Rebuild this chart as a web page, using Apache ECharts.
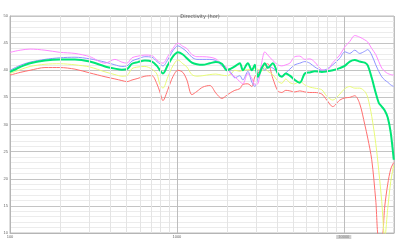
<!DOCTYPE html>
<html>
<head>
<meta charset="utf-8">
<script src="https://cdn.jsdelivr.net/npm/echarts@6/dist/echarts.min.js"></script>
<style>
  html, body { margin: 0; padding: 0; background: #fff; }
  #chart { width: 400px; height: 245px; }
</style>
</head>
<body>
<div id="chart"></div>
<script>
// frequency points (Hz), shared by all curves
var freqs = [100, 115, 132, 162, 199, 245, 301, 371, 425, 468, 502, 538, 584, 643, 709, 759, 791, 825, 884, 946,
  1014, 1086, 1148, 1230, 1318, 1431, 1576, 1712, 1860, 1993, 2106, 2225, 2384, 2485, 2662, 2813, 2932, 3055, 3228, 3365,
  3506, 3757, 4025, 4253, 4496, 4750, 5089, 5452, 5842, 6259, 6706, 7385, 7912, 8595, 9464, 10140, 10860, 11640, 12470, 13360,
  13920, 14710, 15550, 16210, 16890, 17600, 18340, 19120, 19930];

var pinkDb = [43.3, 43.7, 43.9, 43.7, 43.3, 43.1, 42.5, 41.3, 42.0, 41.5, 41.3, 42.3, 42.6, 42.8, 42.7, 41.9, 41.5, 41.3, 42.6, 44.0,
  45.0, 44.4, 44.0, 42.9, 42.5, 42.5, 42.4, 42.1, 41.1, 40.5, 39.3, 38.8, 37.9, 37.5, 39.4, 38.5, 37.4, 37.5, 41.5, 43.4,
  42.8, 41.8, 41.0, 40.8, 41.0, 41.3, 42.5, 42.6, 42.0, 42.1, 41.5, 40.1, 40.0, 41.4, 42.8, 44.3, 45.3, 46.4, 46.1, 45.6,
  45.2, 44.0, 42.9, 41.6, 40.4, 39.8, 39.4, 39.2, 39.1];

var blueDb = [40.0, 40.9, 41.5, 42.0, 42.3, 42.4, 42.1, 41.5, 41.0, 40.7, 40.8, 41.7, 42.1, 42.5, 42.4, 41.6, 41.2, 40.8, 42.0, 43.6,
  44.5, 44.0, 43.4, 42.4, 42.0, 42.0, 42.0, 41.8, 40.8, 40.2, 39.6, 38.6, 39.0, 38.2, 39.8, 37.8, 37.0, 38.5, 40.7, 40.0,
  40.7, 40.4, 39.6, 38.9, 39.5, 40.2, 41.0, 41.3, 41.6, 41.3, 40.6, 40.0, 40.2, 41.0, 42.2, 43.4, 43.1, 43.7, 43.1, 43.5,
  43.8, 42.8, 41.0, 39.8, 38.8, 38.2, 37.8, 37.3, 37.0];

var greenDb = [39.7, 40.6, 41.3, 41.8, 42.0, 42.0, 41.6, 40.7, 40.3, 40.1, 40.2, 41.2, 41.5, 41.8, 41.6, 40.8, 40.0, 39.4, 41.0, 42.5,
  43.3, 42.9, 42.2, 41.4, 41.1, 41.0, 41.3, 41.5, 41.2, 40.0, 40.3, 40.7, 41.3, 40.0, 41.3, 40.0, 41.0, 38.8, 40.4, 41.3,
  40.4, 41.3, 39.4, 38.8, 39.4, 39.0, 38.2, 37.7, 39.4, 39.6, 39.8, 39.7, 39.8, 40.0, 40.4, 40.8, 41.6, 41.9, 41.6, 41.4,
  40.9, 38.6, 35.8, 34.0, 33.3, 32.6, 31.3, 28.5, 23.5];

var yellowDb = [39.4, 40.1, 40.7, 41.1, 41.2, 41.0, 40.6, 39.7, 39.2, 38.9, 39.0, 40.3, 40.6, 40.7, 40.2, 39.3, 37.4, 36.7, 38.8, 40.8,
  41.9, 41.2, 40.6, 39.2, 38.9, 39.0, 39.2, 39.3, 39.1, 39.0, 39.3, 40.0, 39.8, 40.0, 40.1, 40.2, 40.4, 40.2, 39.9, 40.5,
  39.8, 39.2, 38.0, 37.6, 38.4, 37.7, 37.5, 38.0, 37.3, 36.9, 36.7, 36.4, 35.2, 34.5, 35.6, 36.6, 37.0, 36.7, 36.7, 36.1,
  35.0, 31.5, 26.5, 21.5, 15.8, 9.0, 14.5, 19.5, 22.5];

var redDb = [39.1, 39.6, 40.0, 40.5, 40.5, 40.2, 39.5, 38.8, 38.4, 38.1, 37.9, 38.2, 38.5, 38.9, 39.0, 37.5, 36.0, 34.4, 36.5, 38.8,
  40.0, 39.6, 38.2, 35.5, 36.1, 36.9, 37.2, 35.8, 34.8, 35.4, 35.9, 36.3, 36.6, 37.4, 37.5, 37.0, 38.8, 39.4, 40.5, 41.0,
  41.2, 38.5, 36.2, 35.9, 36.3, 36.2, 36.0, 36.2, 36.0, 35.9, 35.9, 35.6, 34.5, 33.3, 34.5, 34.9, 35.0, 35.3, 33.8, 30.0,
  27.5, 23.5, 16.0, 9.0, 9.0, 14.9, 19.0, 21.8, 23.0];

// lighter vertical grid lines of the log axis
var minorFreqs = [200, 300, 400, 500, 600, 700, 800, 900, 2000, 3000, 4000, 5000, 6000, 7000, 8000, 9000];

function pairs(ys) {
  return freqs.map(function (f, i) { return [f, ys[i]]; });
}

function curve(name, color, width, ys) {
  return {
    name: name,
    type: 'line',
    data: pairs(ys),
    showSymbol: false,
    smooth: 0.3,
    clip: true,
    lineStyle: { color: color, width: width },
    z: 3
  };
}

var chart = echarts.init(document.getElementById('chart'));
chart.setOption({
  animation: false,
  backgroundColor: '#fff',
  title: {
    text: 'Directivity (hor)',
    left: 'center',
    top: 9,
    textStyle: { fontSize: 5, fontWeight: 'normal', color: '#555', fontFamily: 'DejaVu Sans' }
  },
  grid: { left: 10, right: 6, top: 16, bottom: 12, show: true, borderColor: '#bdbdbd', borderWidth: 1 },
  xAxis: {
    type: 'log',
    logBase: 10,
    min: 100,
    max: 20000,
    axisLine: { lineStyle: { color: '#b5b5b5' } },
    axisTick: { show: false },
    axisLabel: {
      fontSize: 4,
      color: '#666',
      margin: 2,
      showMaxLabel: false,
      formatter: function (v) { return v === 10000 ? '{h|10000}' : String(v); },
      rich: { h: { fontSize: 4, color: '#888', backgroundColor: '#cfcfcf', padding: [0, 2] } }
    },
    splitLine: { show: true, lineStyle: { color: '#bdbdbd', width: 1 } }
  },
  yAxis: {
    type: 'value',
    min: 10,
    max: 50,
    interval: 5,
    axisLine: { show: true, lineStyle: { color: '#b5b5b5' } },
    axisTick: { show: false },
    axisLabel: { fontSize: 4, color: '#666', margin: 2 },
    splitLine: { lineStyle: { color: '#c4c4c4', width: 1 } },
    minorTick: { show: false, splitNumber: 5 },
    minorSplitLine: { show: true, lineStyle: { color: '#ececec', width: 1 } }
  },
  series: [
    {
      type: 'line',
      data: [],
      z: 1,
      markLine: {
        silent: true,
        symbol: ['none', 'none'],
        label: { show: false },
        lineStyle: { color: '#e4e4e4', type: 'solid', width: 1 },
        data: minorFreqs.map(function (f) { return { xAxis: f }; })
      }
    },
    curve('red', '#ff6f6f', 1, redDb),
    curve('yellow', '#e8fb78', 1, yellowDb),
    curve('blue', '#8f94ff', 1, blueDb),
    curve('pink', '#ff88ff', 1, pinkDb),
    curve('green', '#00e676', 2, greenDb)
  ]
});
</script>
</body>
</html>
